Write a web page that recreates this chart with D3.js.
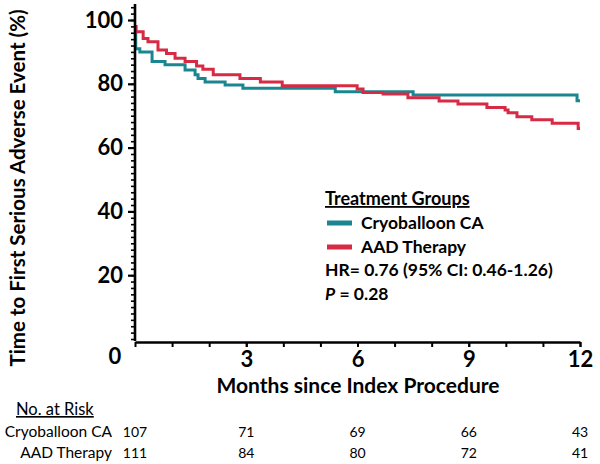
<!DOCTYPE html>
<html><head><meta charset="utf-8">
<script src="https://cdn.jsdelivr.net/npm/d3@7"></script>
<style>
body{margin:0;background:#fff;}
text{font-family:Lato,"Open Sans",sans-serif;}
</style></head>
<body><svg id="c" width="600" height="464"></svg>
<script>
// ---- data ----
const cryoTimes = [0, 0.02, 0.13, 0.46, 0.81, 1.35, 1.62, 1.70, 1.89, 2.43, 2.91, 5.40, 7.50, 11.92, 12];
const cryoSurv  = [95.5, 91.0, 90.0, 87.0, 86.0, 84.3, 82.8, 81.7, 80.6, 79.6, 78.6, 77.5, 76.5, 74.7, 74.7];
const aadTimes  = [0, 0.03, 0.22, 0.35, 0.62, 0.85, 1.08, 1.35, 1.66, 1.83, 2.11, 2.83, 3.38, 3.97, 5.99, 6.15, 6.69, 7.36, 8.20, 8.71, 9.49, 9.98, 10.06, 10.30, 10.70, 11.25, 11.95, 12];
const aadSurv   = [98.0, 96.3, 94.2, 93.2, 90.6, 89.5, 88.0, 87.0, 85.6, 84.6, 82.8, 81.7, 80.6, 79.4, 78.4, 77.3, 76.8, 75.6, 74.6, 73.7, 72.6, 71.8, 70.9, 69.7, 68.7, 67.6, 66.0, 66.0];
const xMajorTicks = [3, 6, 9, 12];
const yMajorTicks = [20, 40, 60, 80, 100];
const riskMonths = [0, 3, 6, 9, 12];
const riskCryo = [107, 71, 69, 66, 43];
const riskAad  = [111, 84, 80, 72, 41];
const groupNames = ["Cryoballoon CA", "AAD Therapy"];
const colors = ["#1a8692", "#d72a45"];

// ---- scales ----
const svg = d3.select("#c");
const x = d3.scaleLinear().domain([0, 12]).range([135, 580]);
const y = d3.scaleLinear().domain([0, 100]).range([339, 20]);

// ---- curves ----
const line = d3.line().x(d => x(d[0])).y(d => y(d[1])).curve(d3.curveStepAfter);
const series = [d3.zip(cryoTimes, cryoSurv), d3.zip(aadTimes, aadSurv)];
svg.append("g").selectAll("path").data(series).join("path")
  .attr("d", line).attr("fill", "none")
  .attr("stroke", (d, i) => colors[i]).attr("stroke-width", 3);

// ---- y axis ----
const yg = svg.append("g").attr("transform", "translate(135,0)");
yg.append("g").call(d3.axisLeft(y).tickValues(d3.range(0, 105, 2)).tickSize(4).tickSizeOuter(0).tickFormat(""))
  .call(g => g.select(".domain").remove())
  .selectAll("line").attr("stroke-width", 1.6);
yg.append("g").call(d3.axisLeft(y).tickValues(yMajorTicks).tickSize(7).tickPadding(5).tickSizeOuter(0))
  .call(g => g.select(".domain").remove())
  .call(g => g.selectAll("line").attr("stroke-width", 2.2))
  .call(g => g.selectAll("text").attr("font-size", 22).attr("font-weight", 700).attr("fill", "#000"));
yg.append("line").attr("x1", 0).attr("x2", 0).attr("y1", y(0) + 2).attr("y2", y(105)).attr("stroke", "#000").attr("stroke-width", 2.6);

// ---- x axis ----
const xg = svg.append("g").attr("transform", `translate(0,${y(0) + 3})`);
xg.call(d3.axisBottom(x).tickValues(d3.range(0, 13, 1)).tickSize(5).tickSizeOuter(0).tickFormat(""))
  .call(g => g.select(".domain").attr("stroke-width", 2.6))
  .call(g => g.selectAll("line").attr("stroke-width", 2));
xg.append("g").call(d3.axisBottom(x).tickValues(xMajorTicks).tickSize(5).tickPadding(4))
  .call(g => g.select(".domain").remove())
  .call(g => g.selectAll("line").attr("stroke-width", 2))
  .call(g => g.selectAll("text").attr("font-size", 22).attr("font-weight", 700).attr("fill", "#000"));
svg.append("text").attr("x", x(0) - 20).attr("y", y(0) + 25).attr("text-anchor", "middle")
  .attr("font-size", 22).attr("font-weight", 700).text("0");

// ---- axis titles ----
svg.append("text").attr("transform", "translate(25,188) rotate(-90)").attr("text-anchor", "middle")
  .attr("font-size", 20.5).attr("font-weight", 700).text("Time to First Serious Adverse Event (%)");
svg.append("text").attr("x", 358).attr("y", 393).attr("text-anchor", "middle")
  .attr("font-size", 21).attr("font-weight", 700).text("Months since Index Procedure");

// ---- legend ----
const lg = svg.append("g");
lg.append("text").attr("x", 325).attr("y", 205).attr("font-size", 18).attr("font-weight", 700)
  .attr("text-decoration", "underline").text("Treatment Groups");
groupNames.forEach((n, i) => {
  const yy = 223 + i * 24;
  lg.append("line").attr("x1", 327).attr("x2", 352).attr("y1", yy).attr("y2", yy)
    .attr("stroke", colors[i]).attr("stroke-width", 5);
  lg.append("text").attr("x", 361).attr("y", yy + 6).attr("font-size", 17.5).attr("font-weight", 700).text(n);
});
lg.append("text").attr("x", 325).attr("y", 276).attr("font-size", 17.5).attr("font-weight", 700)
  .text("HR= 0.76 (95% CI: 0.46-1.26)");
const pt = lg.append("text").attr("x", 325).attr("y", 300).attr("font-size", 17.5).attr("font-weight", 700);
pt.append("tspan").attr("font-style", "italic").text("P");
pt.append("tspan").text(" = 0.28");

// ---- risk table ----
svg.append("text").attr("x", 16).attr("y", 415).attr("font-size", 16.5)
  .attr("text-decoration", "underline").text("No. at Risk");
[riskCryo, riskAad].forEach((vals, i) => {
  const yy = 437 + i * 21;
  svg.append("text").attr("x", 112).attr("y", yy).attr("text-anchor", "end").attr("font-size", 15.5).text(groupNames[i]);
  svg.append("g").selectAll("text").data(vals).join("text")
    .attr("x", (d, j) => x(riskMonths[j])).attr("y", yy).attr("text-anchor", "middle")
    .attr("font-size", 14).text(d => d);
});
</script></body></html>
